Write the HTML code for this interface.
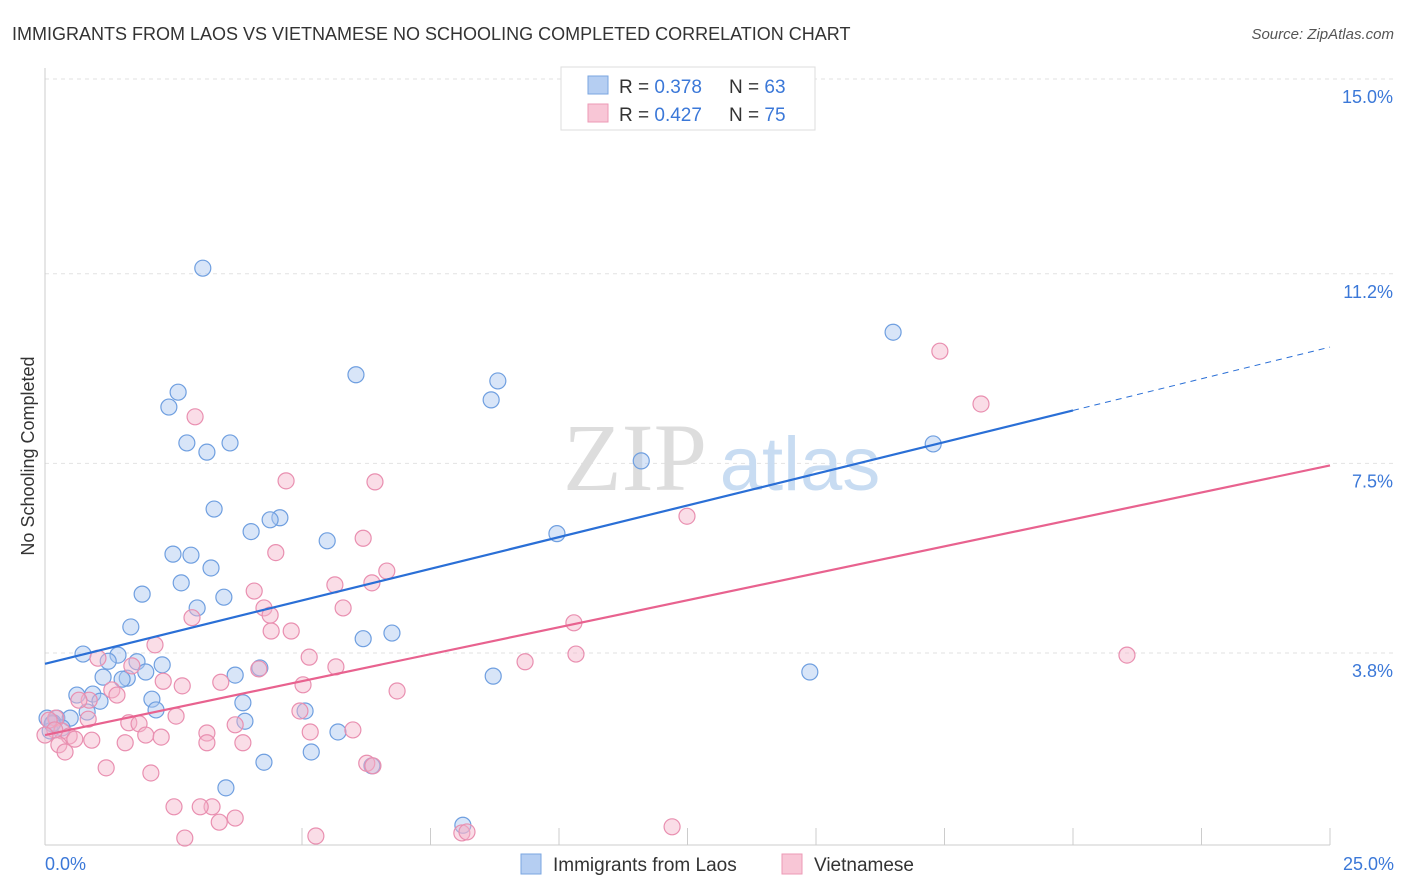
<!DOCTYPE html>
<html><head><meta charset="utf-8"><style>
body{margin:0;background:#fff;font-family:"Liberation Sans",sans-serif}
#c{position:absolute;left:0;top:0}
</style></head><body>
<svg id="c" width="1406" height="892" font-family="Liberation Sans, sans-serif">
<text x="12" y="40" font-size="18" fill="#333">IMMIGRANTS FROM LAOS VS VIETNAMESE NO SCHOOLING COMPLETED CORRELATION CHART</text>
<text x="1394" y="39" font-size="15" fill="#555" font-style="italic" text-anchor="end">Source: ZipAtlas.com</text>
<g id="grid"></g>
<g><text x="635" y="490" font-size="96" fill="#ddd" font-family="Liberation Serif, serif" text-anchor="middle">ZIP</text><text x="800" y="490" font-size="76" fill="#c8dcf2" text-anchor="middle">atlas</text></g>
<line x1="45" y1="68" x2="45" y2="845" stroke="#ccc"/>
<line x1="45" y1="845" x2="1330" y2="845" stroke="#ccc"/>
<g id="ticks"></g>
<g id="ylabels"></g>
<text x="45" y="870" font-size="18" fill="#3b78d8">0.0%</text>
<text x="1394" y="870" font-size="18" fill="#3b78d8" text-anchor="end">25.0%</text>
<text transform="translate(34,456) rotate(-90)" font-size="18" fill="#333" text-anchor="middle">No Schooling Completed</text>
<g id="pts"></g>
<g id="lines"></g>
<g>
<rect x="561" y="67" width="254" height="63" fill="#fff" stroke="#ddd"/>
<rect x="588" y="76" width="20" height="18" fill="#b5cef2" stroke="#7aa6e0"/>
<rect x="588" y="104" width="20" height="18" fill="#f8c6d6" stroke="#ec9ab6"/>
<text x="619" y="93" font-size="19" fill="#333">R = <tspan fill="#3b78d8">0.378</tspan><tspan x="729">N = </tspan><tspan fill="#3b78d8">63</tspan></text>
<text x="619" y="121" font-size="19" fill="#333">R = <tspan fill="#3b78d8">0.427</tspan><tspan x="729">N = </tspan><tspan fill="#3b78d8">75</tspan></text>
</g>
<g>
<rect x="521" y="854" width="20" height="20" fill="#b5cef2" stroke="#7aa6e0"/>
<text x="553" y="871" font-size="19" fill="#333">Immigrants from Laos</text>
<rect x="782" y="854" width="20" height="20" fill="#f8c6d6" stroke="#ec9ab6"/>
<text x="814" y="871" font-size="19" fill="#333">Vietnamese</text>
</g>
</svg>
<script>
const yTicks=[3.8,7.5,11.2,15.0];
const yTickLabels=["3.8%","7.5%","11.2%","15.0%"];
const blueX=[3.07,16.50,6.05,8.81,2.59,8.68,2.41,2.76,3.60,3.15,11.60,17.28,3.29,4.57,4.38,4.01,9.96,5.49,2.49,2.84,3.23,2.65,1.89,3.48,2.96,1.67,6.75,6.19,0.74,1.42,1.23,2.28,1.79,4.18,1.96,3.70,1.13,1.60,1.50,8.72,14.88,0.62,0.93,2.08,3.85,1.07,0.82,2.16,5.06,0.04,0.23,0.49,0.16,0.33,3.89,5.70,0.10,5.18,4.26,6.36,3.52,8.13,0.14];
const blueY=[11.31,10.06,9.23,9.11,8.89,8.74,8.60,7.90,7.90,7.72,7.55,7.88,6.61,6.44,6.40,6.17,6.13,5.99,5.73,5.71,5.46,5.17,4.95,4.89,4.68,4.31,4.19,4.08,3.78,3.76,3.64,3.57,3.63,3.51,3.43,3.37,3.33,3.31,3.29,3.35,3.43,2.98,3.00,2.90,2.83,2.86,2.65,2.69,2.67,2.53,2.53,2.53,2.44,2.34,2.47,2.26,2.28,1.87,1.67,1.60,1.17,0.44,2.42];
const pinkX=[17.41,18.21,2.92,4.69,6.42,12.49,4.49,6.19,6.65,5.64,6.36,4.07,4.26,4.38,5.80,2.86,10.29,4.40,4.79,2.14,10.33,21.05,1.03,1.69,5.14,9.34,5.66,4.16,2.30,3.42,2.67,5.02,6.85,1.30,1.40,0.86,0.66,4.96,2.55,0.84,1.63,1.83,0.21,3.70,3.15,1.96,5.16,5.99,0.33,0.47,0.58,2.26,0.91,0.27,1.56,3.15,3.85,0.39,1.19,2.06,6.26,6.38,2.51,3.25,3.02,3.39,3.70,2.72,5.27,8.11,8.21,12.20,0.08,0.19,0.0];
const pinkY=[9.69,8.66,8.41,7.16,7.14,6.47,5.76,6.04,5.40,5.13,5.17,5.01,4.68,4.54,4.68,4.49,4.39,4.23,4.23,3.96,3.78,3.76,3.70,3.55,3.72,3.63,3.53,3.49,3.25,3.23,3.16,3.18,3.06,3.08,2.98,2.88,2.88,2.67,2.57,2.51,2.44,2.42,2.53,2.40,2.24,2.20,2.26,2.30,2.28,2.18,2.12,2.16,2.10,2.01,2.05,2.05,2.05,1.87,1.56,1.46,1.65,1.60,0.80,0.80,0.80,0.50,0.58,0.19,0.23,0.29,0.31,0.41,2.49,2.30,2.20];
const blueLine=[3.59,9.77]; const blueSolidEnd=20;
const pinkLine=[2.20,7.46];
const NS="http://www.w3.org/2000/svg";
const sx=v=>45+v*51.4, sy=v=>847.8-v*51.25;
function mk(t,a,p){const e=document.createElementNS(NS,t);for(const k in a)e.setAttribute(k,a[k]);p.appendChild(e);return e;}
const grid=document.getElementById('grid'),yl=document.getElementById('ylabels');
yTicks.forEach((t,i)=>{
 const l=mk('line',{x1:45,x2:1394,y1:sy(t),y2:sy(t),stroke:'#e2e2e2','stroke-dasharray':'4,4'},grid);
 
 
 const tx=mk('text',{x:1393,y:sy(t)+24,'font-size':18,fill:'#3b78d8','text-anchor':'end'},yl);
 tx.textContent=yTickLabels[i];
 
 
});
const tk=document.getElementById('ticks');
for(let i=2;i<=10;i++){const x=sx(i*2.5);const l=mk('line',{x1:x,x2:x,y1:828,y2:845,stroke:'#ccc'},tk);
 
 }
const pts=document.getElementById('pts');
function series(X,Y,f,s,name){X.forEach((x,i)=>{const c=mk('circle',{cx:sx(x),cy:sy(Y[i]),r:8,fill:f,'fill-opacity':0.45,stroke:s,'stroke-width':1.2},pts);
 
 });}
series(blueX,blueY,'#a8c6f0','#6f9fe0','laos-point');
series(pinkX,pinkY,'#f5b3c9','#e98fb0','vietnamese-point');
const ln=document.getElementById('lines');
const bAt=x=>blueLine[0]+(blueLine[1]-blueLine[0])*x/25;
let e=mk('line',{x1:sx(0),y1:sy(bAt(0)),x2:sx(blueSolidEnd),y2:sy(bAt(blueSolidEnd)),stroke:'#2a6fd6','stroke-width':2.2},ln);


e=mk('line',{x1:sx(blueSolidEnd),y1:sy(bAt(blueSolidEnd)),x2:sx(25),y2:sy(bAt(25)),stroke:'#2a6fd6','stroke-width':1,'stroke-dasharray':'6,5'},ln);


e=mk('line',{x1:sx(0),y1:sy(pinkLine[0]),x2:sx(25),y2:sy(pinkLine[1]),stroke:'#e8628f','stroke-width':2.2},ln);


</script>
</body></html>
